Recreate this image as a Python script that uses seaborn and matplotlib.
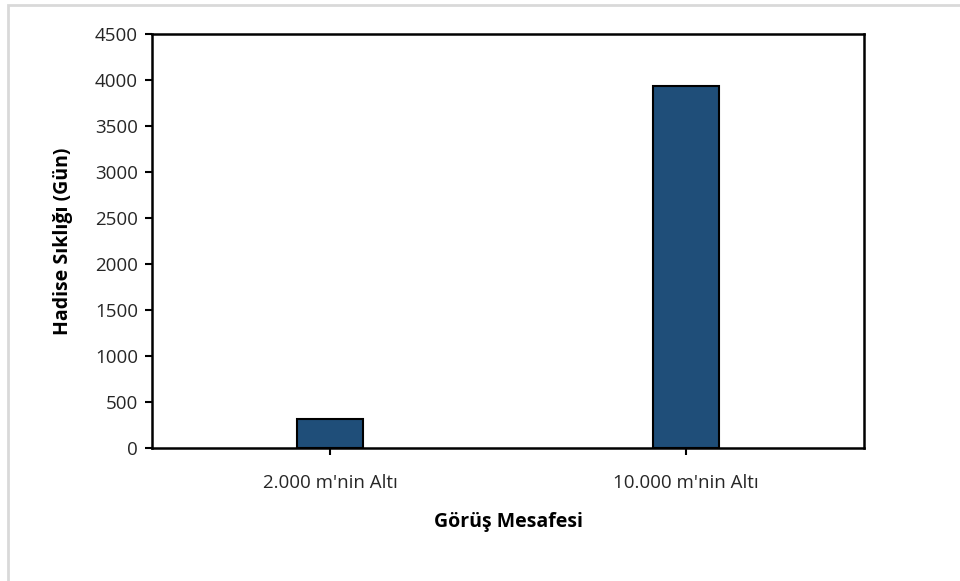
import matplotlib
matplotlib.use("Agg")
import matplotlib.pyplot as plt
import seaborn as sns
import pandas as pd
from matplotlib.patches import Rectangle

categories = ["2.000 m'nin Altı", "10.000 m'nin Altı"]
values = [310, 3940]
yticks = [0, 500, 1000, 1500, 2000, 2500, 3000, 3500, 4000, 4500]

sns.set_theme(style="white")
plt.rcParams['font.family'] = ['Open Sans', 'DejaVu Sans']

df = pd.DataFrame({"cat": categories, "val": values})

fig = plt.figure(figsize=(9.6, 5.81), dpi=100)
W, H = 960, 581
ax = fig.add_axes([152 / W, 1 - 448 / H, (864 - 152) / W, (448 - 34) / H])

sns.barplot(data=df, x="cat", y="val", ax=ax, color="#1f4e79", width=0.185,
            edgecolor="black", linewidth=1.5, saturation=1)

ax.set_xlim(-0.5, 1.5)
ax.set_ylim(0, 4500)
ax.set_yticks(yticks)
ax.set_yticklabels([str(t) for t in yticks], fontsize=13.5, color="#262626")
ax.tick_params(axis="x", labelsize=13.5, labelcolor="#262626", bottom=True, length=5, width=1.5, direction="out", color="black", pad=14)
ax.tick_params(axis="y", left=True, length=5, width=1.5, direction="out", color="black", pad=5)
for s in ax.spines.values():
    s.set_visible(True)
    s.set_color("black")
    s.set_linewidth(1.8)

ax.set_xlabel("Görüş Mesafesi", fontsize=14, fontweight="bold", color="black", labelpad=14)
ax.set_ylabel("Hadise Sıklığı (Gün)", fontsize=14, fontweight="bold", color="black", labelpad=16)

fig.patches.append(Rectangle((8 / W, -0.1), 1.2, 1 - 5 / H + 0.1, transform=fig.transFigure,
                             fill=False, edgecolor="#d9d9d9", linewidth=2, zorder=-1))

fig.savefig("out.png", dpi=100)
